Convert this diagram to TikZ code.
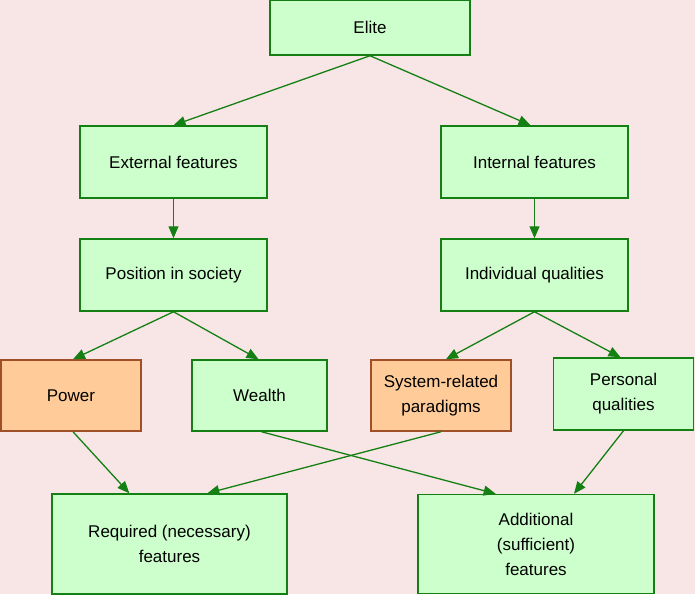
\documentclass[tikz,border=0pt]{standalone}
\usepackage{fontspec}
\setmainfont{Liberation Sans}
\usetikzlibrary{arrows.meta}
\usetikzlibrary{calc}
\definecolor{bgpink}{RGB}{248,230,230}
\definecolor{boxgreen}{RGB}{204,255,204}
\definecolor{linegreen}{RGB}{20,128,20}
\definecolor{boxorange}{RGB}{255,204,153}
\definecolor{lineorange}{RGB}{160,80,40}
\tikzset{%
  arr/.style = {-{Triangle[length=12pt,width=10pt]},color=linegreen,line width=1.3pt},
  g/.style = {rectangle,draw=linegreen,fill=boxgreen,line width=1.5pt,align=center,
        inner sep=0pt,font=\fontsize{17}{25}\selectfont},
  o/.style = {g,draw=lineorange,fill=boxorange}
}
\begin{document}
\begin{tikzpicture}[x=1pt,y=1pt]
                \fill[bgpink] (0,0) rectangle (695,-594);
                \useasboundingbox (0,0) rectangle (695,-594);

                \node[g, minimum width=200pt, minimum height=55pt] (elite) at (370,-27.5) {Elite};
                \node[g, minimum width=187pt, minimum height=72pt] (ext) at (173.5,-162) {External features};
                \node[g, minimum width=187pt, minimum height=72pt] (int) at (534.5,-162) {Internal features};
                \node[g, minimum width=187pt, minimum height=72pt] (pos) at (173.5,-275) {Position in society};
                \node[g, minimum width=187pt, minimum height=72pt] (ind) at (534.5,-275) {Individual qualities};
                \node[o, minimum width=140pt, minimum height=71pt] (power) at (71,-395.5) {Power};
                \node[g, minimum width=135pt, minimum height=71pt] (wealth) at (259.5,-395.5) {Wealth};
                \node[o, minimum width=140pt, minimum height=71pt] (sys) at (441,-395.5) {System-related\\paradigms};
                \node[g, minimum width=140pt, minimum height=72pt] (pers) at (623.5,-394) {Personal\\qualities};
                \node[g, minimum width=235pt, minimum height=100pt] (req) at (169.5,-544) {Required (necessary)\\features};
                \node[g, minimum width=236pt, minimum height=99pt] (add) at (536,-544) {Additional\\(sufficient)\\features};

                \path[arr] (elite.south) edge (ext.north)
                           (elite.south) edge ([xshift=-4pt]int.north)
                           (ext) edge (pos)
                           (int) edge (ind)
                           (pos.south) edge ([xshift=2pt]power.north)
                           (pos.south) edge ([xshift=-1pt]wealth.north)
                           (ind.south) edge ([xshift=5pt]sys.north)
                           (ind.south) edge ([xshift=-3pt]pers.north)
                           ([xshift=2pt]power.south) edge ($(req.north west)!0.33!(req.north east)$)
                           ([xshift=2pt]wealth.south) edge ($(add.north west)!0.33!(add.north east)$)
                           (sys.south) edge ($(req.north west)!0.66!(req.north east)$)
                           (pers.south) edge ($(add.north west)!0.66!(add.north east)$);
            \end{tikzpicture}
\end{document}
